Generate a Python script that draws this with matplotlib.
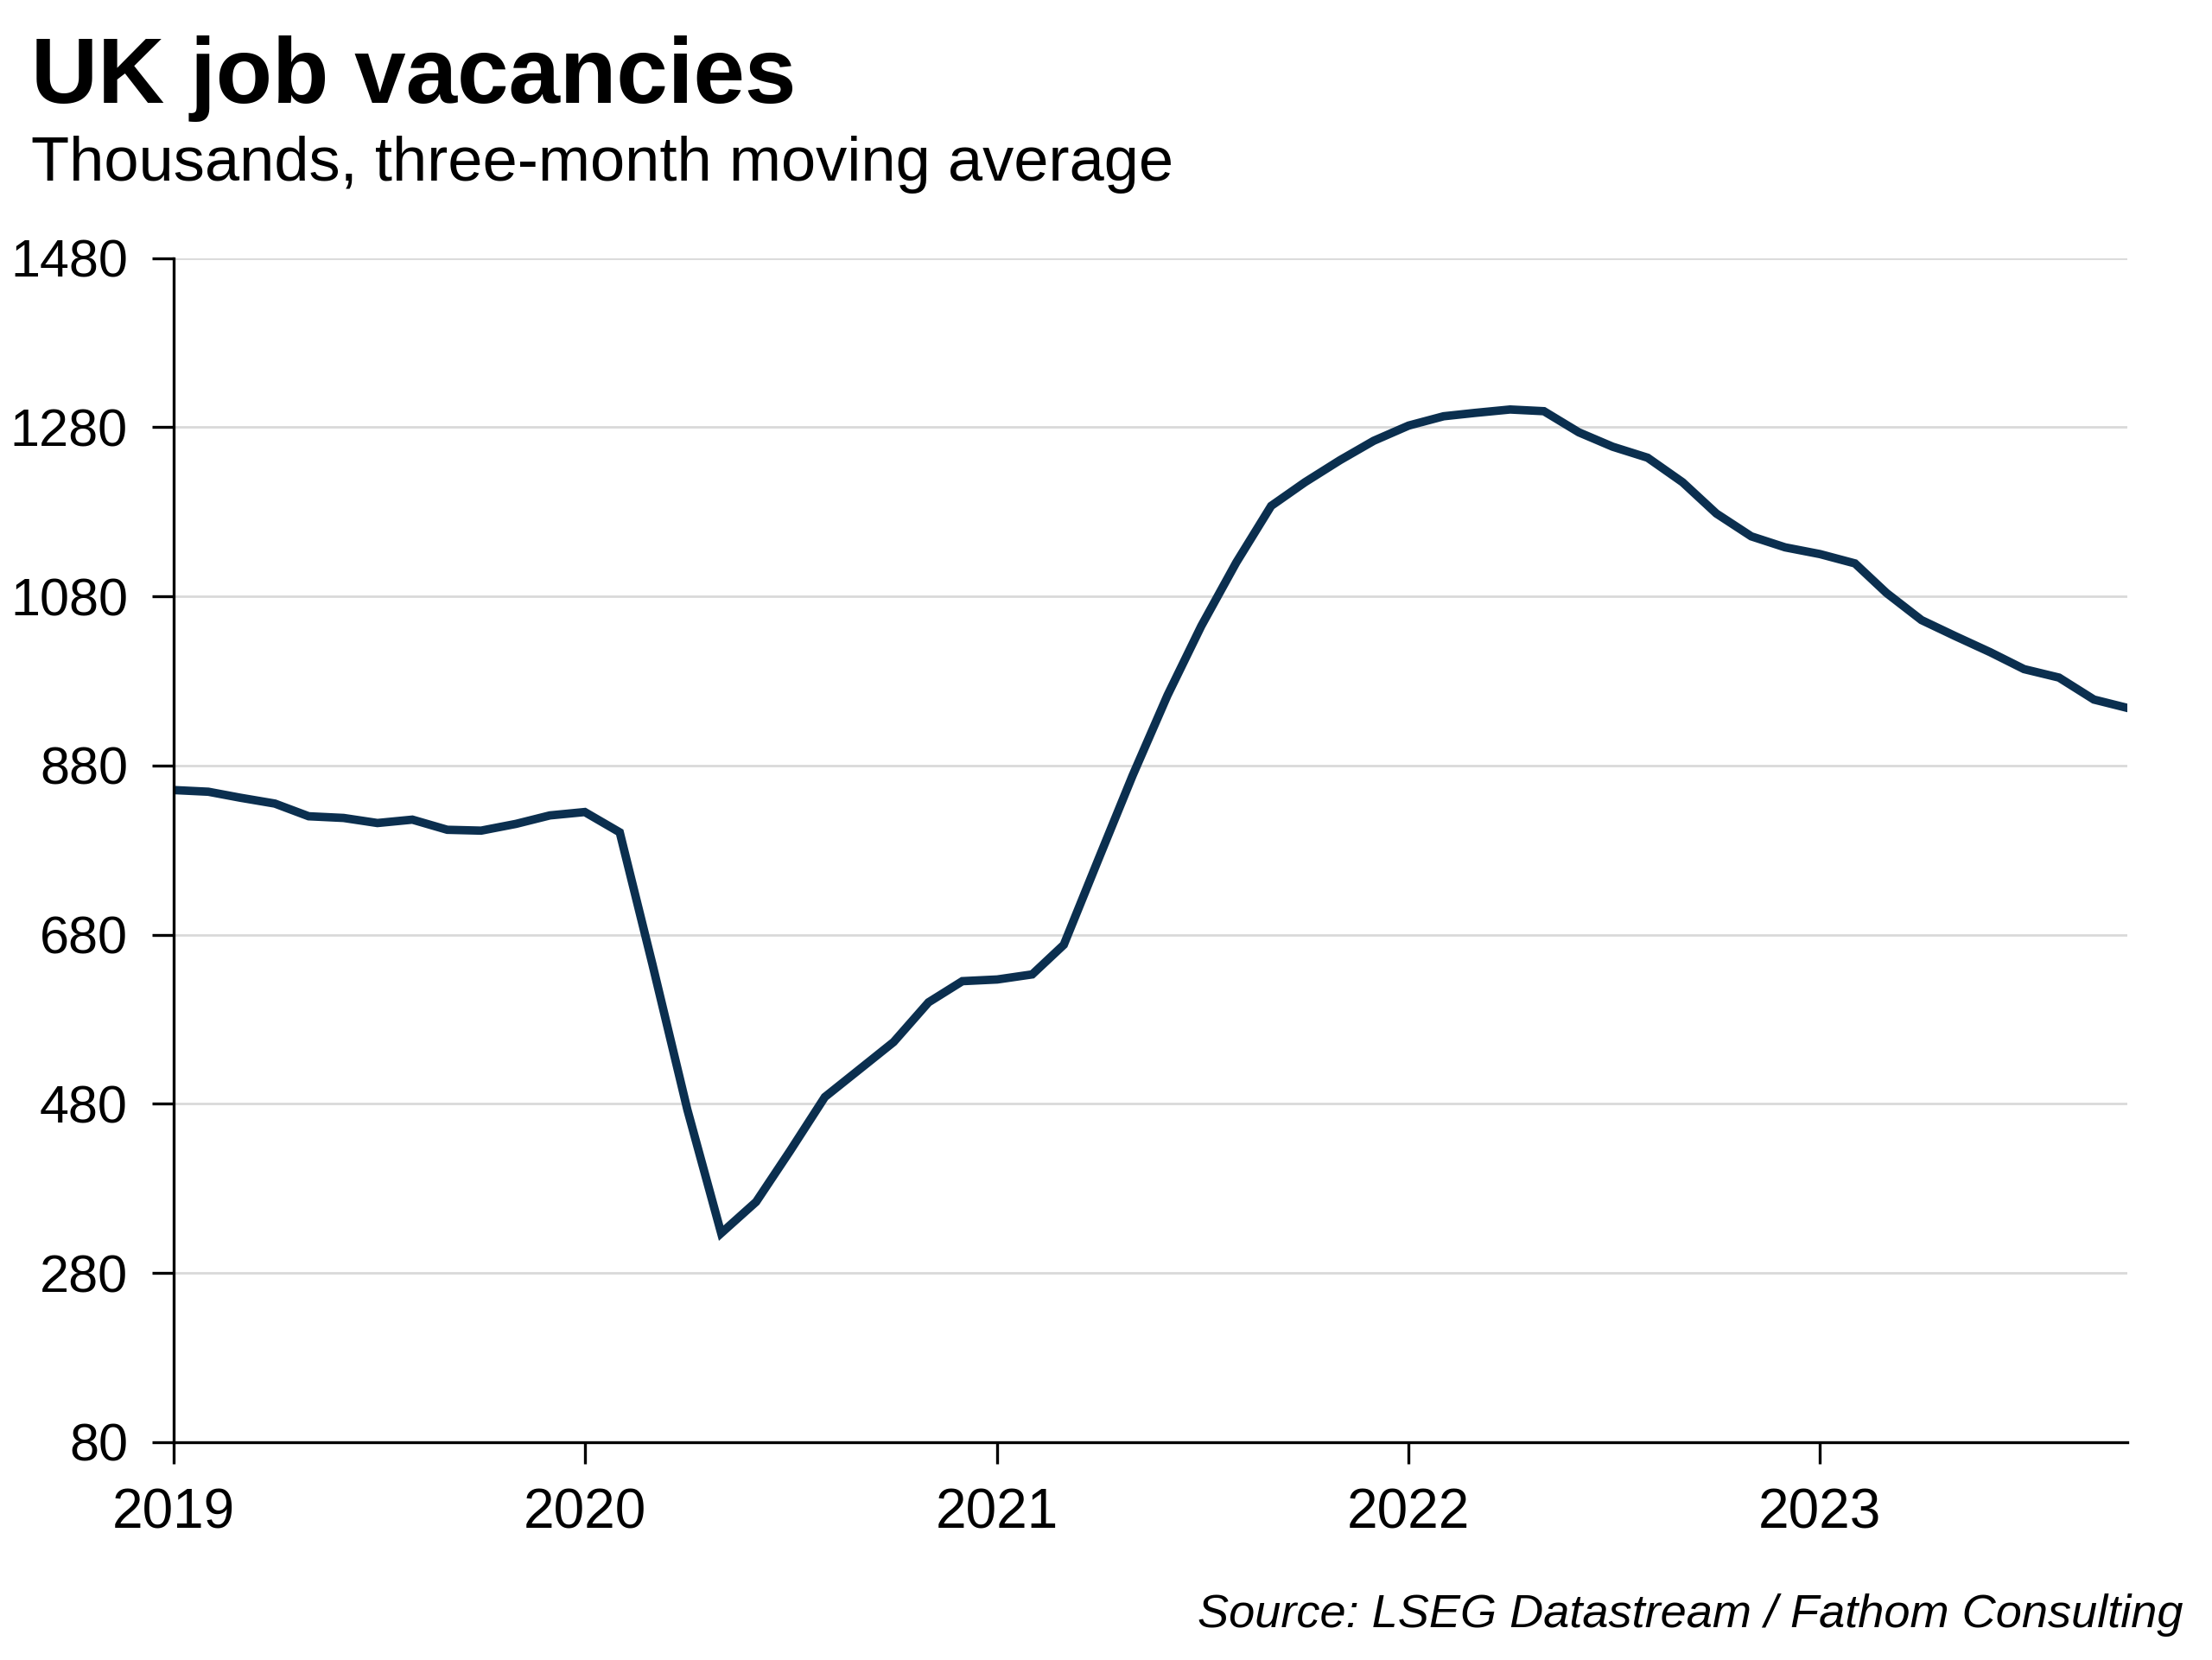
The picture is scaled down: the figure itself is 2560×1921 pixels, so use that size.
import matplotlib.pyplot as plt
import matplotlib.dates as mdates
import pandas as pd

plt.rcParams['font.family'] = ['Liberation Sans', 'DejaVu Sans']

# monthly, Jan 2019 - Oct 2023, thousands (3m moving average)
vacancies = [
    851, 849, 842, 835, 820, 818, 812, 816, 804, 803, 811, 821,
    825, 801, 645, 473, 327, 364, 424, 488, 521, 553, 600, 625,
    627, 633, 668, 770, 868, 963, 1045, 1120, 1187, 1215, 1241, 1264,
    1282, 1293, 1297, 1301, 1299, 1274, 1257, 1244, 1215, 1178, 1151, 1138,
    1130, 1119, 1084, 1052, 1033, 1014, 994, 984, 958, 948,
]
months = pd.date_range('2019-01-01', periods=len(vacancies), freq='MS')
yticks = [80, 280, 480, 680, 880, 1080, 1280, 1480]
years = [2019, 2020, 2021, 2022, 2023]

fig = plt.figure(figsize=(25.6, 19.21), dpi=100)
ax = fig.add_axes([0.0784, 0.1313, 0.8835, 0.7132])

ax.plot(months, vacancies, color='#0b2f4f', lw=7, solid_joinstyle='miter')

ax.set_ylim(80, 1480)
ax.set_xlim(months[0], months[-1])
ax.set_yticks(yticks)
ax.set_xticks([pd.Timestamp(f'{y}-01-01') for y in years])
ax.xaxis.set_major_formatter(mdates.DateFormatter('%Y'))

ax.grid(axis='y', color='#d9d9d9', lw=2)
ax.set_axisbelow(True)
for s in ['top', 'right']:
    ax.spines[s].set_visible(False)
for s in ['left', 'bottom']:
    ax.spines[s].set_linewidth(2.4)
    ax.spines[s].set_color('black')

ax.tick_params(axis='y', length=18, width=2.4, pad=20, labelsize=44)
ax.tick_params(axis='x', length=18, width=2.4, pad=20, labelsize=46)

fig.text(0.014, 0.938, 'UK job vacancies', fontsize=77, fontweight='bold')
fig.text(0.014, 0.891, 'Thousands, three-month moving average', fontsize=52)
fig.text(0.987, 0.020, 'Source: LSEG Datastream / Fathom Consulting',
         fontsize=39, style='italic', ha='right')

fig.savefig('out.png', dpi=100)
